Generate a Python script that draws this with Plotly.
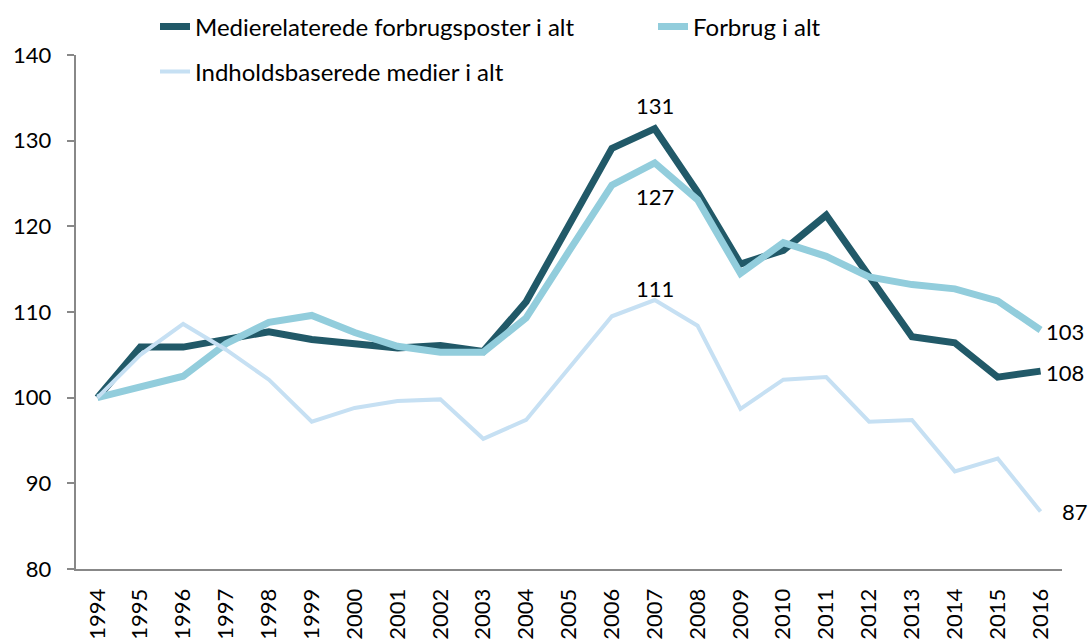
import plotly.graph_objects as go

years = [str(y) for y in range(1994, 2017)]

medie = [100, 105.9, 105.9, 106.8, 107.7, 106.8, 106.4, 105.8, 106.1, 105.4, 111.2, 120.3,
         129.1, 131.4, 124.0, 115.6, 117.2, 121.3, 114.2, 107.1, 106.4, 102.4, 103.1]
forbrug = [100, 101.2, 102.5, 106.3, 108.8, 109.6, 107.6, 106.0, 105.3, 105.3, 109.3, 117.1,
           124.8, 127.4, 123.1, 114.5, 118.1, 116.5, 114.1, 113.2, 112.7, 111.3, 107.9]
indhold = [100, 105.0, 108.6, 105.6, 102.1, 97.2, 98.8, 99.6, 99.8, 95.2, 97.4, 103.5,
           109.5, 111.4, 108.4, 98.7, 102.1, 102.4, 97.2, 97.4, 91.4, 92.9, 86.7]

names = ["Medierelaterede forbrugsposter i alt", "Forbrug i alt", "Indholdsbaserede medier i alt"]
colors = ["#215968", "#92CDDC", "#C6E0F3"]
widths = [7, 7, 4]

# annotation labels (as shown in the reference)
ann_x = ["2007", "2007", "2007", "2016", "2016", "2016"]
ann_y = [medie[13], forbrug[13], indhold[13], forbrug[22], medie[22], indhold[22]]
ann_text = ["131", "127", "111", "103", "108", "87"]

FONT = "Lato, Open Sans, sans-serif"
fig = go.Figure()
legends = ["legend", "legend2", "legend3"]
for s, name, c, w, lg in zip([medie, forbrug, indhold], names, colors, widths, legends):
    fig.add_trace(go.Scatter(x=years, y=s, mode="lines", name=name,
                             line=dict(color=c, width=w), legend=lg))

shifts = [(0, 23, "center"), (0, -34, "center"), (0, 12, "center"),
          (3, -2, "left"), (3, -1, "left"), (19, 0, "left")]
for x, y, t, (xs, ys, xa) in zip(ann_x, ann_y, ann_text, shifts):
    fig.add_annotation(x=years.index(x), y=y, xref="x", yref="y", text=t, showarrow=False,
                       xshift=xs, yshift=ys, xanchor=xa, yanchor="middle",
                       font=dict(size=22, color="#000000"))

W, H = 1089, 639
ML, MR, MT, MB = 76, 27, 55, 70

def px2x(px):
    return (px - ML) / (W - ML - MR)

def px2y(py):
    return (H - MB - py) / (H - MT - MB)

def leg(px, py):
    return dict(x=px2x(px), y=px2y(py), orientation="h", xanchor="left", yanchor="middle",
                bgcolor="rgba(0,0,0,0)", font=dict(size=24, color="#000000"), borderwidth=0)

fig.update_layout(
    width=W, height=H,
    margin=dict(l=ML, r=MR, t=MT, b=MB, autoexpand=False),
    plot_bgcolor="white", paper_bgcolor="white",
    font=dict(family=FONT, size=22, color="#000000"),
    showlegend=True,
    legend=leg(155, 27),
    legend2=leg(653, 27),
    legend3=leg(155, 72),
    xaxis=dict(type="category", tickangle=-90, showline=True, linecolor="#888888", linewidth=2,
               ticks="outside", ticklen=9, tickcolor="rgba(0,0,0,0)", showgrid=False,
               tickfont=dict(size=22), range=[-0.5, 22.5]),
    yaxis=dict(range=[80, 140], dtick=10, showline=True, linecolor="#888888", linewidth=2,
               ticks="outside", ticklen=7, tickcolor="#888888", tickwidth=2, showgrid=False,
               zeroline=False, tickfont=dict(size=22), ticksuffix="\u00a0\u00a0"),
)

fig.write_html("out.html", config={"displayModeBar": False},
               post_script="document.body.style.margin='0px';")
